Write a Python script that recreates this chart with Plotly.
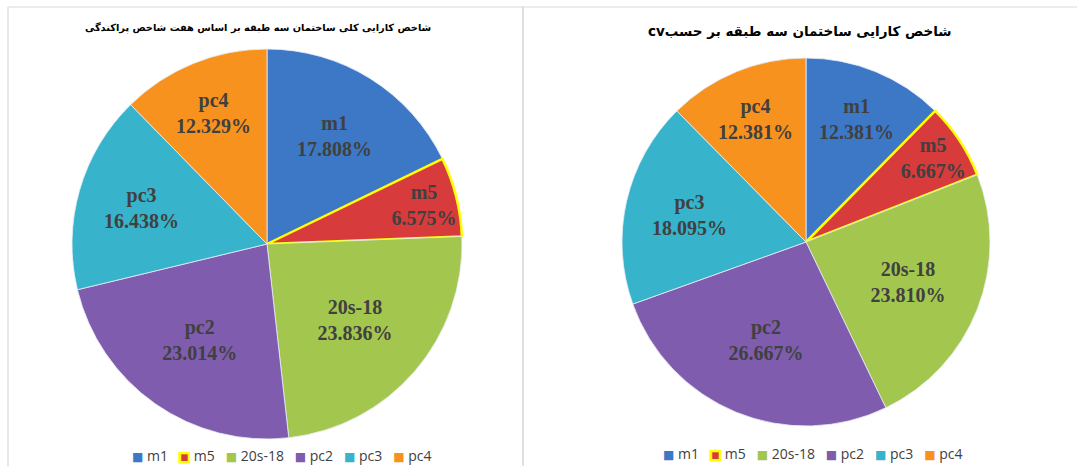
import plotly.graph_objects as go

labels = ["m1", "m5", "20s-18", "pc2", "pc3", "pc4"]
left_values = [17.808, 6.575, 23.836, 23.014, 16.438, 12.329]
right_values = [12.381, 6.667, 23.810, 26.667, 18.095, 12.381]
colors = ["#3C78C6", "#D73B3B", "#A3C64F", "#7F5CAE", "#37B3CB", "#F7921F"]
line_colors = ["#e8eef7", "#FFFF00", "#e8eef7", "#e8eef7", "#e8eef7", "#e8eef7"]
line_widths = [0.8, 2.5, 0.8, 0.8, 0.8, 0.8]

left_title = "شاخص کارایی کلی ساختمان سه طبقه بر اساس هفت شاخص پراکندگی"
right_title = "شاخص کارایی ساختمان سه طبقه بر حسبcv"

W, H = 1077, 466

def dom(cx, cy, r):
    return dict(x=[(cx - r) / W, (cx + r) / W], y=[1 - (cy + r) / H, 1 - (cy - r) / H])

text_font = dict(family="Liberation Serif", size=20, color="#404040")

fig = go.Figure()
for vals, d in [(left_values, dom(267, 244, 195)), (right_values, dom(806, 242, 184))]:
    fig.add_trace(go.Pie(
        labels=labels, values=vals, sort=False, direction="clockwise", rotation=0,
        domain=d,
        marker=dict(colors=colors, line=dict(color=line_colors, width=line_widths)),
        texttemplate="<b>%{label}<br>%{percent:.3%}</b>", textposition="inside",
        insidetextorientation="horizontal", textfont=text_font,
        hoverinfo="label+percent", showlegend=False,
    ))

# legend rows built from the category list and colours
def legend_text():
    parts = []
    for lab, col, lc in zip(labels, colors, line_colors):
        if lc == "#FFFF00":
            sq = ('<span style="font-family:DejaVu Sans;font-size:12px;fill:%s;stroke:#FFFF00;stroke-width:2.5px">■</span>' % col)
        else:
            sq = '<span style="font-family:DejaVu Sans;font-size:12px;fill:%s">■</span>' % col
        parts.append(sq + "\u00a0" + lab)
    return "\u00a0\u00a0\u00a0".join(parts)

leg_font = dict(family="Open Sans", size=14, color="#404040")

fig.update_layout(
    width=W, height=H, margin=dict(l=0, r=0, t=0, b=0),
    paper_bgcolor="white", plot_bgcolor="white",
    uniformtext=dict(mode="show", minsize=20),
    annotations=[
        dict(text="<b>" + left_title + "</b>", x=258 / W, y=1 - 28 / H, xref="paper", yref="paper",
             showarrow=False, font=dict(family="DejaVu Sans", size=9.8, color="#000000"),
             xanchor="center", yanchor="middle"),
        dict(text="<b>\u202b" + right_title + "\u202c</b>", x=800 / W, y=1 - 31 / H, xref="paper", yref="paper",
             showarrow=False, font=dict(family="DejaVu Sans", size=13.5, color="#000000"),
             xanchor="center", yanchor="middle"),
        dict(text=legend_text(), x=281 / W, y=1 - 455 / H, xref="paper", yref="paper",
             showarrow=False, font=leg_font, xanchor="center", yanchor="middle"),
        dict(text=legend_text(), x=812 / W, y=1 - 453 / H, xref="paper", yref="paper",
             showarrow=False, font=leg_font, xanchor="center", yanchor="middle"),
    ],
    shapes=[
        dict(type="rect", xref="paper", yref="paper", x0=8 / W, x1=523 / W, y0=-0.05, y1=1 - 7 / H,
             line=dict(color="#D9D9D9", width=1.2)),
        dict(type="rect", xref="paper", yref="paper", x0=523 / W, x1=1.05, y0=-0.05, y1=1 - 7 / H,
             line=dict(color="#D9D9D9", width=1.2)),
    ],
)

fig.write_html("out.html", config={"displayModeBar": False},
               post_script="document.body.style.margin='0';document.body.style.overflow='hidden';")
